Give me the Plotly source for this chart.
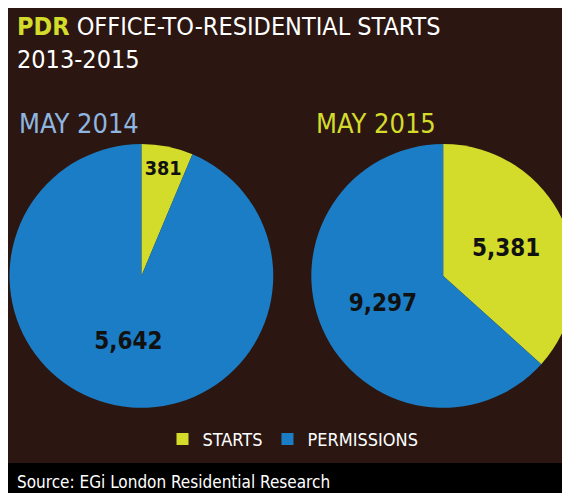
import plotly.graph_objects as go

labels = ["STARTS", "PERMISSIONS"]
may_2014 = [381, 5642]
may_2015 = [5381, 9297]
colors = ["#d3dc2b", "#1b7dc5"]
font = "DejaVu Sans Condensed, Liberation Sans Narrow, sans-serif"

fig = go.Figure()
for vals, dom in [(may_2014, [0.002, 0.466]), (may_2015, [0.531, 0.996])]:
    fig.add_trace(go.Pie(
        labels=labels, values=vals, sort=False, direction="counterclockwise", rotation=0,
        marker=dict(colors=colors, line=dict(width=0)),
        texttemplate="<b>%{value:,}</b>", textposition="inside",
        insidetextorientation="horizontal",
        textfont=dict(family=font, size=24, color="#111"),
        domain=dict(x=dom, y=[0.189, 0.724]), showlegend=True,
    ))

fig.add_shape(type="rect", xref="paper", yref="paper", x0=0, x1=1, y0=0, y1=0.077,
              fillcolor="#000", line=dict(width=0), layer="below")

fig.add_annotation(x=0.012, y=0.995, xref="paper", yref="paper", xanchor="left", yanchor="top",
                   align="left", showarrow=False,
                   text="<b><span style='color:#d3dc2b'>PDR</span></b> OFFICE-TO-RESIDENTIAL STARTS<br>2013-2015",
                   font=dict(family=font, size=25, color="white"))
fig.add_annotation(x=0.015, y=0.765, xref="paper", yref="paper", xanchor="left", yanchor="middle",
                   showarrow=False, text="MAY 2014", font=dict(family=font, size=27, color="#8eb6e0"))
fig.add_annotation(x=0.537, y=0.765, xref="paper", yref="paper", xanchor="left", yanchor="middle",
                   showarrow=False, text="MAY 2015", font=dict(family=font, size=27, color="#d3dc2b"))
fig.add_annotation(x=0.012, y=0.038, xref="paper", yref="paper", xanchor="left", yanchor="middle",
                   showarrow=False, text="Source: EGi London Residential Research",
                   font=dict(family=font, size=17, color="white"))

fig.update_layout(
    width=570, height=493, margin=dict(l=0, r=0, t=0, b=0),
    paper_bgcolor="#2b1611", plot_bgcolor="#2b1611",
    legend=dict(orientation="h", x=0.5, xanchor="center", y=0.125, yanchor="middle",
                font=dict(family=font, size=18, color="white"), bgcolor="rgba(0,0,0,0)",
                traceorder="normal"),
)
fig.write_html("out.html")
